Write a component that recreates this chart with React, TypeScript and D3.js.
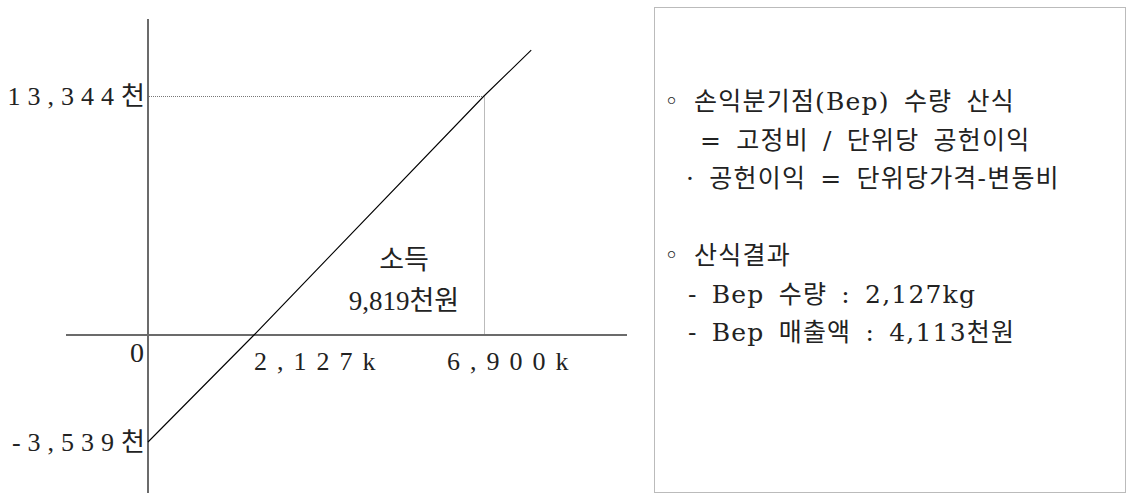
import React, { useEffect, useRef } from "react";
import * as d3 from "d3";

// break-even chart values (quantity in kg, amounts in 천원)
const quantities = [0, 2127, 6900, 7880];
const profits = [-3539, 0, 13344, 15900];
const xTickValues = [2127, 6900];
const xTickLabels = ["2,127k", "6,900k"];
const yTickValues = [13344, 0, -3539];
const yTickLabels = ["13,344천", "0", "-3,539천"];
const incomeLabel = ["소득", "9,819천원"];
const noteLines = [
  "◦ 손익분기점(Bep) 수량 산식",
  "= 고정비 / 단위당 공헌이익",
  "· 공헌이익 = 단위당가격-변동비",
  "",
  "◦ 산식결과",
  "- Bep 수량 : 2,127kg",
  "- Bep 매출액 : 4,113천원",
];

const W = 1128;
const H = 495;
const SERIF = "'Liberation Serif', 'DejaVu Serif', 'Noto Sans CJK KR', serif";
const NOTE_FONT = "'DejaVu Serif', 'Noto Sans CJK KR', serif";
const crisp = (v) => Math.round(v) + 0.5;

const App = () => {
  const svgRef = useRef(null);

  useEffect(() => {
    const svg = d3.select(svgRef.current);
    svg.selectAll("*").remove();

    // piecewise scales so the drawing keeps the original's proportions
    const x = d3.scaleLinear().domain([0, 2127, 6900]).range([148, 254, 484]);
    const y = d3.scaleLinear().domain([-3539, 0, 13344]).range([442, 335, 96]);

    const g = svg.append("g");

    // dotted guides to the 6,900k point
    const cornerX = crisp(x(6900));
    const cornerY = crisp(y(13344));
    g.append("line")
      .attr("x1", x(0) + 1).attr("x2", cornerX)
      .attr("y1", cornerY).attr("y2", cornerY)
      .attr("stroke", "#777").attr("stroke-dasharray", "1,1");
    g.append("line")
      .attr("x1", cornerX).attr("x2", cornerX)
      .attr("y1", cornerY).attr("y2", y(0))
      .attr("stroke", "#777").attr("stroke-dasharray", "1,1");

    // axes
    g.append("line")
      .attr("x1", 66).attr("x2", 627)
      .attr("y1", y(0)).attr("y2", y(0))
      .attr("stroke", "#6b6b6b").attr("stroke-width", 2);
    g.append("line")
      .attr("x1", x(0)).attr("x2", x(0))
      .attr("y1", 19).attr("y2", 493)
      .attr("stroke", "#6b6b6b").attr("stroke-width", 2);

    // profit line
    const line = d3
      .line()
      .x((d) => x(d[0]))
      .y((d) => y(d[1]));
    g.append("path")
      .attr("d", line(quantities.map((q, i) => [q, profits[i]])))
      .attr("fill", "none")
      .attr("stroke", "#000")
      .attr("stroke-width", 1.1);

    // y labels
    g.selectAll(".ylab")
      .data(yTickValues)
      .enter()
      .append("text")
      .attr("x", (d) => (d === 0 ? x(0) - 4 : x(0) + 4))
      .attr("y", (d) => (d === 0 ? y(0) + 27 : y(d) + 9))
      .attr("text-anchor", "end")
      .attr("font-family", SERIF)
      .attr("font-size", (d) => (d === 0 ? 28 : 26))
      .attr("letter-spacing", (d) => (d === 0 ? 0 : 7))
      .attr("fill", "#222")
      .text((d, i) => yTickLabels[i]);

    // x labels
    const xOffsets = [0, -37];
    g.selectAll(".xlab")
      .data(xTickValues)
      .enter()
      .append("text")
      .attr("x", (d, i) => x(d) + xOffsets[i])
      .attr("y", y(0) + 35)
      .attr("text-anchor", "start")
      .attr("font-family", SERIF)
      .attr("font-size", 26)
      .attr("letter-spacing", 10)
      .attr("fill", "#222")
      .text((d, i) => xTickLabels[i]);

    // income annotation
    g.selectAll(".inc")
      .data(incomeLabel)
      .enter()
      .append("text")
      .attr("x", 404)
      .attr("y", (d, i) => 269 + i * 41)
      .attr("text-anchor", "middle")
      .attr("font-family", SERIF)
      .attr("font-size", 27)
      .attr("fill", "#222")
      .text((d) => d);

    // note box
    g.append("rect")
      .attr("x", 654.5).attr("y", 7.5)
      .attr("width", 471).attr("height", 485)
      .attr("fill", "none")
      .attr("stroke", "#777")
      .attr("stroke-dasharray", "1,1");

    const noteIndent = [664, 700, 686, 664, 664, 688, 688];
    g.selectAll(".note")
      .data(noteLines)
      .enter()
      .append("text")
      .attr("x", (d, i) => noteIndent[i])
      .attr("y", (d, i) => 110 + i * 38.5)
      .attr("font-family", NOTE_FONT)
      .attr("font-size", 25)
      .attr("letter-spacing", 1.2)
      .attr("word-spacing", 5)
      .attr("fill", "#222")
      .text((d) => d);
  }, []);

  return (
    <svg
      ref={svgRef}
      width={W}
      height={H}
      style={{ position: "absolute", left: 0, top: 0, background: "#fff" }}
    />
  );
};

export default App;
